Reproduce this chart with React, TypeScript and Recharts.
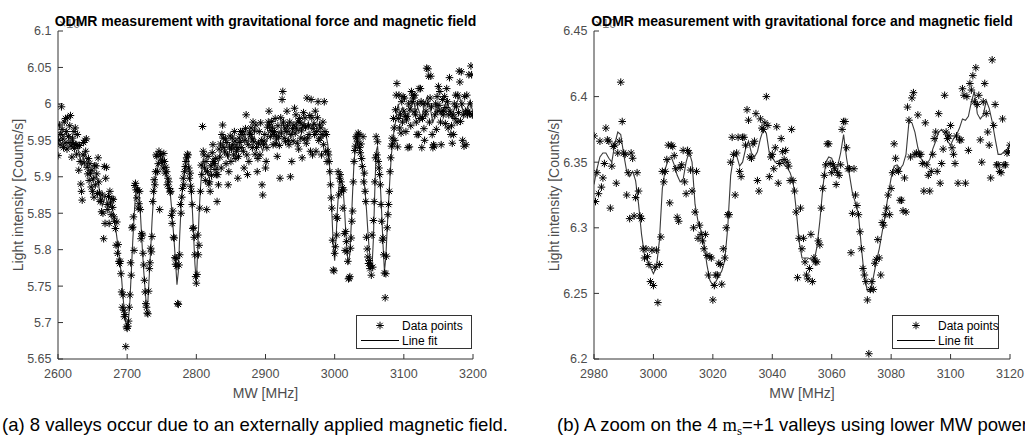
import React from "react";
import { ComposedChart, Scatter, Line, XAxis, YAxis, Legend } from "recharts";

const FONT = '"Liberation Sans", Arial, Helvetica, sans-serif';

// (a) full sweep, one reading per MHz
const sweepA = { start: 2600, step: 1 };
const countsA = [
  5.929, 5.950, 5.971, 5.944, 5.958, 5.996, 5.965, 5.952, 5.940, 5.975,
  5.946, 5.980, 5.962, 5.938, 5.981, 5.955, 5.947, 5.970, 5.984, 5.942,
  5.927, 5.953, 5.945, 5.962, 5.939, 5.967, 5.944, 5.931, 5.958, 5.943,
  5.909, 5.943, 5.921, 5.890, 5.880, 5.868, 5.930, 5.947, 5.919, 5.950,
  5.935, 5.952, 5.913, 5.904, 5.925, 5.895, 5.918, 5.905, 5.886, 5.909,
  5.880, 5.897, 5.872, 5.915, 5.889, 5.915, 5.904, 5.877, 5.926, 5.893,
  5.878, 5.866, 5.868, 5.852, 5.875, 5.850, 5.815, 5.914, 5.836, 5.898,
  5.913, 5.862, 5.855, 5.873, 5.836, 5.880, 5.864, 5.848, 5.870, 5.858,
  5.869, 5.845, 5.839, 5.829, 5.806, 5.838, 5.795, 5.807, 5.784, 5.781,
  5.784, 5.767, 5.742, 5.721, 5.738, 5.717, 5.708, 5.711, 5.667, 5.694,
  5.692, 5.695, 5.702, 5.721, 5.738, 5.782, 5.765, 5.830, 5.831, 5.845,
  5.799, 5.888, 5.891, 5.882, 5.871, 5.882, 5.857, 5.863, 5.880, 5.855,
  5.815, 5.822, 5.820, 5.795, 5.779, 5.758, 5.742, 5.726, 5.721, 5.713,
  5.712, 5.743, 5.774, 5.782, 5.802, 5.797, 5.818, 5.866, 5.880, 5.896,
  5.889, 5.907, 5.930, 5.928, 5.907, 5.918, 5.935, 5.855, 5.931, 5.930,
  5.920, 5.923, 5.912, 5.932, 5.921, 5.905, 5.913, 5.907, 5.889, 5.898,
  5.893, 5.884, 5.879, 5.880, 5.847, 5.836, 5.853, 5.817, 5.816, 5.789,
  5.780, 5.788, 5.777, 5.726, 5.725, 5.779, 5.793, 5.862, 5.850, 5.872,
  5.884, 5.898, 5.889, 5.907, 5.914, 5.921, 5.926, 5.931, 5.930, 5.912,
  5.898, 5.905, 5.887, 5.880, 5.862, 5.829, 5.830, 5.817, 5.793, 5.763,
  5.754, 5.766, 5.820, 5.793, 5.806, 5.857, 5.880, 5.916, 5.903, 5.969,
  5.935, 5.930, 5.912, 5.895, 5.921, 5.855, 5.907, 5.928, 5.890, 5.893,
  5.880, 5.915, 5.902, 5.933, 5.944, 5.921, 5.918, 5.910, 5.925, 5.903,
  5.866, 5.903, 5.889, 5.938, 5.927, 5.945, 5.912, 5.958, 5.971, 5.953,
  5.940, 5.934, 5.952, 5.918, 5.947, 5.930, 5.889, 5.907, 5.941, 5.956,
  5.921, 5.938, 5.953, 5.944, 5.930, 5.962, 5.949, 5.925, 5.935, 5.940,
  5.898, 5.928, 5.953, 5.947, 5.962, 5.940, 5.958, 5.962, 5.935, 5.912,
  5.950, 5.966, 5.985, 5.930, 5.903, 5.944, 5.921, 5.960, 5.958, 5.967,
  5.952, 5.940, 5.975, 5.948, 5.963, 5.931, 5.971, 5.940, 5.907, 5.925,
  5.945, 5.962, 5.930, 5.974, 5.950, 5.889, 5.875, 5.944, 5.949, 5.958,
  5.912, 5.921, 5.940, 5.968, 5.975, 5.990, 5.971, 5.955, 5.963, 5.976,
  5.967, 5.944, 5.958, 5.962, 5.980, 5.945, 5.952, 5.928, 5.970, 5.955,
  5.943, 5.898, 5.981, 5.960, 6.006, 6.017, 5.975, 5.953, 5.967, 5.948,
  5.962, 5.990, 5.970, 5.950, 5.944, 5.975, 5.900, 5.958, 5.921, 5.966,
  5.949, 5.971, 5.994, 5.960, 5.985, 5.967, 5.946, 5.975, 5.938, 5.980,
  5.975, 5.953, 5.963, 5.926, 5.970, 5.988, 5.952, 5.981, 5.968, 5.946,
  6.008, 5.953, 5.970, 5.958, 5.984, 5.935, 6.006, 5.981, 5.930, 5.966,
  5.972, 5.958, 5.990, 5.935, 5.962, 5.981, 6.003, 5.950, 5.971, 5.953,
  5.967, 5.930, 5.958, 5.975, 5.944, 6.003, 5.962, 5.935, 5.958, 5.921,
  5.935, 5.930, 5.921, 5.907, 5.889, 5.871, 5.857, 5.813, 5.772, 5.771,
  5.795, 5.804, 5.845, 5.820, 5.843, 5.907, 5.875, 5.898, 5.903, 5.893,
  5.880, 5.885, 5.857, 5.882, 5.822, 5.799, 5.825, 5.811, 5.797, 5.784,
  5.760, 5.761, 5.763, 5.802, 5.816, 5.839, 5.853, 5.893, 5.921, 5.936,
  5.942, 5.955, 5.953, 5.948, 5.960, 5.958, 5.940, 5.933, 5.945, 5.925,
  5.914, 5.955, 5.893, 5.905, 5.880, 5.866, 5.817, 5.801, 5.790, 5.781,
  5.785, 5.774, 5.778, 5.765, 5.820, 5.776, 5.840, 5.866, 5.893, 5.926,
  5.955, 5.930, 5.948, 5.921, 5.912, 5.903, 5.889, 5.862, 5.839, 5.813,
  5.816, 5.793, 5.768, 5.734, 5.767, 5.791, 5.830, 5.848, 5.862, 5.880,
  5.907, 5.926, 5.942, 5.953, 5.945, 5.980, 5.967, 5.950, 5.992, 6.012,
  6.028, 5.941, 5.980, 6.012, 5.967, 5.985, 5.960, 6.003, 5.975, 6.010,
  5.990, 6.008, 5.983, 5.962, 5.978, 5.983, 5.940, 6.000, 5.941, 5.993,
  5.970, 6.017, 6.003, 6.012, 6.008, 5.989, 6.012, 5.985, 5.975, 5.958,
  6.000, 5.958, 6.021, 5.980, 6.021, 6.003, 5.940, 5.980, 6.000, 5.966,
  5.950, 5.985, 5.990, 6.049, 6.000, 6.048, 6.038, 5.975, 6.008, 6.038,
  5.996, 5.958, 5.940, 5.944, 5.942, 5.985, 6.000, 5.965, 6.010, 5.990,
  6.024, 5.998, 6.017, 5.975, 5.944, 5.990, 6.006, 5.985, 5.990, 6.010,
  5.973, 5.995, 6.021, 6.003, 5.967, 5.985, 6.036, 5.990, 5.958, 5.970,
  5.946, 5.985, 5.958, 6.000, 5.980, 6.012, 5.996, 5.975, 6.012, 5.988,
  6.045, 6.030, 5.976, 6.044, 6.000, 5.950, 5.985, 5.942, 6.010, 5.990,
  5.944, 6.012, 5.985, 5.990, 6.040, 5.987, 6.000, 6.052, 6.040, 5.985,
  5.985,
];
// fitted curve of (a), every 2 MHz
const fitSweepA = { start: 2600, step: 2 };
const fitA = [
  5.955, 5.960, 5.962, 5.958, 5.955, 5.958, 5.960, 5.955, 5.958, 5.955,
  5.945, 5.950, 5.945, 5.948, 5.940, 5.935, 5.925, 5.915, 5.920, 5.930,
  5.930, 5.920, 5.910, 5.905, 5.900, 5.895, 5.900, 5.898, 5.900, 5.895,
  5.880, 5.870, 5.860, 5.865, 5.875, 5.870, 5.860, 5.858, 5.862, 5.860,
  5.850, 5.835, 5.825, 5.810, 5.795, 5.780, 5.760, 5.735, 5.715, 5.700,
  5.695, 5.705, 5.730, 5.770, 5.810, 5.845, 5.875, 5.885, 5.885, 5.870,
  5.835, 5.800, 5.770, 5.745, 5.720, 5.730, 5.765, 5.800, 5.840, 5.870,
  5.890, 5.905, 5.918, 5.922, 5.925, 5.920, 5.915, 5.910, 5.905, 5.898,
  5.888, 5.880, 5.860, 5.835, 5.810, 5.782, 5.752, 5.770, 5.820, 5.860,
  5.885, 5.900, 5.915, 5.925, 5.928, 5.910, 5.885, 5.860, 5.820, 5.780,
  5.755, 5.800, 5.850, 5.885, 5.910, 5.925, 5.915, 5.905, 5.910, 5.900,
  5.905, 5.915, 5.925, 5.920, 5.915, 5.910, 5.920, 5.930, 5.935, 5.945,
  5.940, 5.935, 5.930, 5.925, 5.935, 5.940, 5.945, 5.938, 5.940, 5.945,
  5.935, 5.942, 5.950, 5.948, 5.955, 5.960, 5.950, 5.945, 5.955, 5.960,
  5.958, 5.950, 5.955, 5.948, 5.945, 5.950, 5.945, 5.940, 5.935, 5.945,
  5.945, 5.950, 5.960, 5.965, 5.962, 5.960, 5.958, 5.955, 5.960, 5.962,
  5.960, 5.965, 5.975, 5.970, 5.965, 5.962, 5.960, 5.965, 5.955, 5.960,
  5.965, 5.970, 5.968, 5.965, 5.962, 5.968, 5.965, 5.970, 5.975, 5.965,
  5.970, 5.975, 5.968, 5.965, 5.970, 5.975, 5.972, 5.968, 5.965, 5.962,
  5.960, 5.958, 5.955, 5.958, 5.955, 5.945, 5.925, 5.890, 5.850, 5.805,
  5.785, 5.815, 5.855, 5.885, 5.900, 5.895, 5.885, 5.860, 5.825, 5.795,
  5.780, 5.795, 5.835, 5.880, 5.920, 5.940, 5.948, 5.945, 5.938, 5.930,
  5.915, 5.900, 5.880, 5.855, 5.825, 5.800, 5.782, 5.776, 5.815, 5.880,
  5.935, 5.942, 5.920, 5.890, 5.850, 5.805, 5.770, 5.790, 5.830, 5.865,
  5.900, 5.930, 5.948, 5.965, 5.975, 5.990, 6.000, 5.985, 5.990, 5.995,
  5.990, 5.985, 5.980, 5.985, 5.990, 5.995, 6.000, 6.005, 5.995, 5.990,
  5.995, 5.990, 5.985, 5.980, 5.990, 6.000, 6.005, 6.010, 6.000, 5.995,
  5.985, 5.975, 5.980, 5.990, 6.000, 5.995, 5.990, 5.985, 5.990, 5.995,
  6.000, 6.005, 6.000, 5.990, 5.985, 5.980, 5.990, 5.995, 6.000, 6.005,
  6.010, 6.005, 5.995, 5.990, 5.985, 5.990, 5.995, 6.000, 6.005, 5.995,
  5.990,
];
const xTicksA = [2600, 2700, 2800, 2900, 3000, 3100, 3200];
const yTicksA = [5.65, 5.7, 5.75, 5.8, 5.85, 5.9, 5.95, 6, 6.05, 6.1];

// (b) zoom on the m_s=+1 valleys, one reading per 0.5 MHz
const sweepB = { start: 2980, step: 0.5 };
const countsB = [
  6.370, 6.320, 6.342, 6.326, 6.366, 6.331, 6.338, 6.349, 6.376, 6.367, 6.366, 6.315, 6.347, 6.362, 6.363, 6.334, 6.357, 6.366, 6.411, 6.381,
  6.357, 6.356, 6.325, 6.342, 6.307, 6.357, 6.353, 6.309, 6.323, 6.342, 6.328, 6.309, 6.307, 6.284, 6.277, 6.284, 6.278, 6.272, 6.259, 6.283,
  6.256, 6.270, 6.283, 6.243, 6.272, 6.293, 6.343, 6.335, 6.343, 6.352, 6.363, 6.319, 6.363, 6.362, 6.355, 6.345, 6.308, 6.305, 6.346, 6.348,
  6.359, 6.335, 6.326, 6.359, 6.357, 6.344, 6.328, 6.300, 6.312, 6.343, 6.292, 6.302, 6.295, 6.290, 6.284, 6.295, 6.279, 6.264, 6.278, 6.277,
  6.245, 6.256, 6.264, 6.264, 6.273, 6.272, 6.257, 6.284, 6.277, 6.300, 6.310, 6.310, 6.350, 6.369, 6.356, 6.325, 6.357, 6.369, 6.343, 6.339,
  6.369, 6.369, 6.363, 6.390, 6.382, 6.354, 6.353, 6.364, 6.366, 6.387, 6.336, 6.328, 6.383, 6.376, 6.375, 6.380, 6.400, 6.378, 6.339, 6.354,
  6.356, 6.345, 6.361, 6.377, 6.334, 6.349, 6.368, 6.358, 6.352, 6.359, 6.350, 6.347, 6.336, 6.375, 6.336, 6.328, 6.312, 6.262, 6.292, 6.315,
  6.284, 6.292, 6.274, 6.264, 6.261, 6.269, 6.295, 6.259, 6.277, 6.274, 6.274, 6.290, 6.287, 6.315, 6.330, 6.340, 6.348, 6.364, 6.364, 6.349,
  6.342, 6.348, 6.345, 6.333, 6.342, 6.340, 6.348, 6.375, 6.381, 6.381, 6.361, 6.345, 6.345, 6.281, 6.311, 6.345, 6.325, 6.317, 6.310, 6.297,
  6.284, 6.269, 6.264, 6.259, 6.245, 6.204, 6.253, 6.259, 6.253, 6.273, 6.276, 6.291, 6.277, 6.264, 6.304, 6.302, 6.310, 6.315, 6.325, 6.310,
  6.330, 6.342, 6.364, 6.353, 6.344, 6.343, 6.321, 6.321, 6.313, 6.338, 6.312, 6.392, 6.382, 6.354, 6.399, 6.403, 6.356, 6.357, 6.386, 6.356,
  6.356, 6.349, 6.328, 6.380, 6.348, 6.340, 6.328, 6.343, 6.356, 6.368, 6.373, 6.343, 6.387, 6.334, 6.349, 6.360, 6.401, 6.373, 6.368, 6.370,
  6.378, 6.361, 6.356, 6.349, 6.370, 6.334, 6.367, 6.367, 6.406, 6.401, 6.334, 6.400, 6.359, 6.410, 6.405, 6.416, 6.396, 6.422, 6.394, 6.401,
  6.367, 6.350, 6.396, 6.410, 6.387, 6.373, 6.363, 6.338, 6.428, 6.378, 6.394, 6.348, 6.348, 6.343, 6.342, 6.383, 6.348, 6.348, 6.357, 6.358,
  6.363,
];
// fitted curve of (b), every MHz
const fitSweepB = { start: 2980, step: 1 };
const fitB = [
  6.333, 6.345, 6.354, 6.357, 6.357, 6.353, 6.350, 6.364, 6.373, 6.371,
  6.356, 6.343, 6.339, 6.343, 6.336, 6.318, 6.295, 6.279, 6.275, 6.270,
  6.265, 6.270, 6.290, 6.330, 6.345, 6.352, 6.354, 6.348, 6.340, 6.335,
  6.337, 6.350, 6.358, 6.350, 6.318, 6.305, 6.298, 6.288, 6.272, 6.260,
  6.256, 6.259, 6.263, 6.267, 6.275, 6.300, 6.340, 6.355, 6.355, 6.347,
  6.350, 6.360, 6.366, 6.357, 6.354, 6.358, 6.368, 6.375, 6.372, 6.357,
  6.354, 6.350, 6.351, 6.352, 6.348, 6.346, 6.342, 6.335, 6.315, 6.290,
  6.277, 6.277, 6.277, 6.276, 6.274, 6.285, 6.305, 6.330, 6.350, 6.354,
  6.353, 6.346, 6.347, 6.357, 6.371, 6.353, 6.340, 6.326, 6.319, 6.310,
  6.285, 6.262, 6.252, 6.251, 6.262, 6.274, 6.284, 6.297, 6.310, 6.325,
  6.338, 6.347, 6.348, 6.345, 6.348, 6.356, 6.381, 6.380, 6.373, 6.361,
  6.353, 6.350, 6.349, 6.352, 6.360, 6.366, 6.373, 6.375, 6.372, 6.366,
  6.363, 6.368, 6.371, 6.376, 6.383, 6.382, 6.385, 6.396, 6.404, 6.387,
  6.383, 6.386, 6.397, 6.391, 6.381, 6.368, 6.356, 6.356, 6.358, 6.360,
  6.363,
];
const xTicksB = [2980, 3000, 3020, 3040, 3060, 3080, 3100, 3120];
const yTicksB = [6.2, 6.25, 6.3, 6.35, 6.4, 6.45];

const TITLE = "ODMR measurement with gravitational force and magnetic field";

const toPoints = (sweep: { start: number; step: number }, values: number[]) =>
  values.map((v, i) => ({ f: sweep.start + i * sweep.step, v }));

// matlab style '*' marker
const Asterisk = (props: any) => {
  const { cx, cy } = props;
  if (typeof cx !== "number" || typeof cy !== "number") return <g />;
  const r = 3.8;
  const d = 2.7;
  return (
    <path
      d={`M${cx - r},${cy}H${cx + r}M${cx},${cy - r}V${cy + r}M${cx - d},${cy - d}L${cx + d},${cy + d}M${cx - d},${cy + d}L${cx + d},${cy - d}`}
      stroke="#000"
      strokeWidth={1}
      fill="none"
    />
  );
};

const FitLegend = ({ payload, width }: any) => (
  <div
    style={{
      width,
      height: 34,
      boxSizing: "border-box",
      border: "1px solid #333",
      background: "#fff",
      fontFamily: FONT,
      fontSize: 12,
      color: "#000",
      position: "relative",
    }}
  >
    {(payload || []).map((entry: any, i: number) => (
      <div
        key={i}
        style={{ position: "absolute", left: 0, top: 2 + i * 15, height: 15, display: "flex", alignItems: "center", whiteSpace: "nowrap" }}
      >
        <svg width={44} height={15}>
          {entry.type === "line" ? (
            <line x1={4} x2={42} y1={7.5} y2={7.5} stroke="#000" strokeWidth={1} />
          ) : (
            <Asterisk cx={23} cy={7.5} />
          )}
        </svg>
        <span style={{ marginLeft: 1 }}>{entry.value}</span>
      </div>
    ))}
  </div>
);

interface PanelProps {
  width: number;
  yAxisWidth: number;
  rightMargin: number;
  points: { f: number; v: number }[];
  fit: { f: number; v: number }[];
  xTicks: number[];
  yTicks: number[];
  legendLeft: number;
  legendWidth: number;
}

const tickStyle = { fontSize: 12.5, fill: "#4d4d4d", fontFamily: FONT };
const axisStroke = { stroke: "#333" };

const ODMRPanel: React.FC<PanelProps> = ({ width, yAxisWidth, rightMargin, points, fit, xTicks, yTicks, legendLeft, legendWidth }) => {
  const xDomain = [xTicks[0], xTicks[xTicks.length - 1]];
  const yDomain = [yTicks[0], yTicks[yTicks.length - 1]];
  return (
    <ComposedChart width={width} height={437} margin={{ top: 31, right: rightMargin, bottom: 0, left: 0 }} style={{ fontFamily: FONT }}>
      <XAxis
        dataKey="f"
        type="number"
        domain={xDomain}
        ticks={xTicks}
        interval={0}
        allowDataOverflow
        height={78}
        tickSize={-5}
        tickMargin={15}
        tick={tickStyle}
        axisLine={axisStroke}
        tickLine={axisStroke}
        label={{ value: "MW [MHz]", position: "insideTop", offset: 29, fontSize: 14, fill: "#4d4d4d", fontFamily: FONT }}
      />
      <XAxis
        xAxisId="top"
        orientation="top"
        dataKey="f"
        type="number"
        domain={xDomain}
        ticks={xTicks}
        interval={0}
        allowDataOverflow
        height={0}
        tickSize={-5}
        tick={false}
        axisLine={axisStroke}
        tickLine={axisStroke}
      />
      <YAxis
        dataKey="v"
        type="number"
        domain={yDomain}
        ticks={yTicks}
        interval={0}
        allowDataOverflow
        width={yAxisWidth}
        tickSize={-5}
        tickMargin={11.5}
        tick={tickStyle}
        axisLine={axisStroke}
        tickLine={axisStroke}
        label={{
          value: "Light intensity [Counts/s]",
          angle: -90,
          position: "insideLeft",
          offset: yAxisWidth - 40,
          fontSize: 14,
          fill: "#4d4d4d",
          fontFamily: FONT,
          style: { textAnchor: "middle" },
        }}
      />
      <YAxis
        yAxisId="right"
        orientation="right"
        dataKey="v"
        type="number"
        domain={yDomain}
        ticks={yTicks}
        interval={0}
        allowDataOverflow
        width={0}
        tickSize={-5}
        tick={false}
        axisLine={axisStroke}
        tickLine={axisStroke}
      />
      <Scatter
        name="Data points"
        data={points}
        dataKey="v"
        legendType="star"
        shape={Asterisk}
        isAnimationActive={false}
      />
      <Line
        name="Line fit"
        data={fit}
        dataKey="v"
        type="linear"
        stroke="#3a3a3a"
        strokeWidth={1.1}
        dot={false}
        legendType="line"
        isAnimationActive={false}
      />
      <Legend
        layout="vertical"
        align="center"
        verticalAlign="middle"
        content={(p: any) => <FitLegend {...p} width={legendWidth} />}
        wrapperStyle={{ left: legendLeft, top: 315, width: legendWidth, height: 34 }}
      />
    </ComposedChart>
  );
};

export default function App() {
  const pointsA = toPoints(sweepA, countsA);
  const lineA = toPoints(fitSweepA, fitA);
  const pointsB = toPoints(sweepB, countsB);
  const lineB = toPoints(fitSweepB, fitB);

  return (
    <div style={{ position: "absolute", left: 0, top: 0, width: 1025, height: 437, overflow: "hidden", background: "#fff" }}>
      <div style={{ position: "absolute", left: 0, top: 0 }}>
        <ODMRPanel
          width={512}
          yAxisWidth={58}
          rightMargin={39}
          points={pointsA}
          fit={lineA}
          xTicks={xTicksA}
          yTicks={yTicksA}
          legendLeft={356}
          legendWidth={116}
        />
      </div>
      <div style={{ position: "absolute", left: 512, top: 0 }}>
        <ODMRPanel
          width={513}
          yAxisWidth={82}
          rightMargin={15}
          points={pointsB}
          fit={lineB}
          xTicks={xTicksB}
          yTicks={yTicksB}
          legendLeft={380}
          legendWidth={107}
        />
      </div>
      <svg width={1025} height={437} style={{ position: "absolute", left: 0, top: 0, pointerEvents: "none" }} fontFamily={FONT}>
        <text x={59} y={28} fontSize={12.5} fill="#777">×10</text>
        <text x={595} y={28} fontSize={12.5} fill="#777">×10</text>
        <text x={265.5} y={25.5} textAnchor="middle" fontSize={14} fontWeight="bold" fill="#000">{TITLE}</text>
        <text x={802} y={25.5} textAnchor="middle" fontSize={14} fontWeight="bold" fill="#000">{TITLE}</text>
        <text x={2} y={431} fontSize={18.5} fill="#000">
          (a) 8 valleys occur due to an externally applied magnetic field.
        </text>
        <text x={557} y={431} fontSize={18.5} fill="#000">
          (b) A zoom on the 4{" "}
          <tspan fontFamily='"Liberation Serif", "DejaVu Serif", serif'>m</tspan>
          <tspan fontFamily='"Liberation Serif", "DejaVu Serif", serif' fontSize={13} dy={4}>s</tspan>
          <tspan dy={-4}>=+1 valleys using lower MW power.</tspan>
        </text>
      </svg>
    </div>
  );
}
